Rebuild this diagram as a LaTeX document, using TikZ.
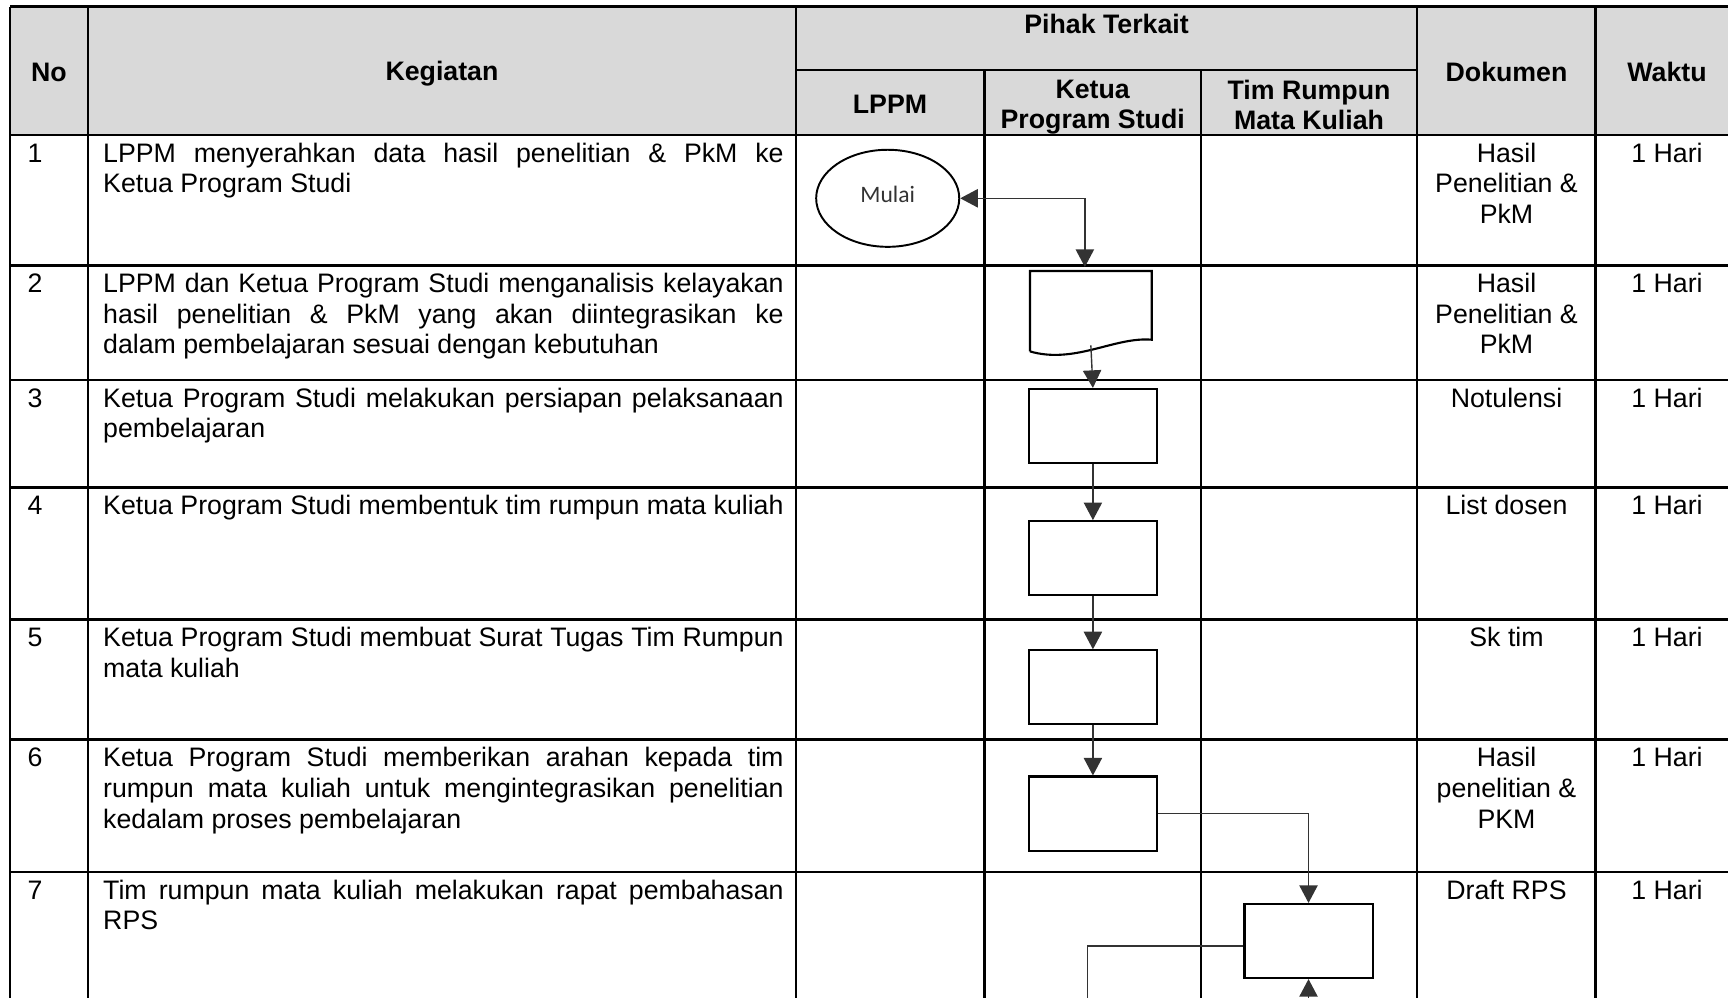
\documentclass[tikz,border=0pt]{standalone}
\usepackage{fontspec}
\setmainfont{Liberation Sans}
\newfontfamily\mulaifont{Carlito}
\usepackage{tikz}
\usetikzlibrary{shapes.geometric, positioning, calc}
\usetikzlibrary{arrows.meta}
\tikzset{>={Triangle[width=5.2pt,length=5pt]}}
\definecolor{headgray}{HTML}{D9D9D9}
\definecolor{linegray}{HTML}{333333}
\newcommand{\isifont}{\fontsize{7.6}{8.7}\selectfont\hyphenpenalty=10000\exhyphenpenalty=10000}
\newcommand{\judulfont}{\fontsize{7.6}{8.7}\selectfont\bfseries}

\begin{document}
\begin{tikzpicture}[x=0.01cm, y=-0.01cm, isi/.style={inner sep=0pt, font=\isifont}, kegiatan/.style={isi, anchor=north west, text width=6.8cm, align=justify}, nomor/.style={isi, anchor=north west}, kolom/.style={isi, anchor=north, align=center}, judul/.style={inner sep=0pt, font=\judulfont, align=center}, proses/.style={draw, line width=0.6pt, minimum width=1.28cm, minimum height=0.74cm, inner sep=0pt}, mulainode/.style={ellipse, draw, line width=0.55pt, minimum width=1.43cm, minimum height=0.97cm, inner sep=0pt, text depth=2.5pt, font=\mulaifont\fontsize{6.7}{8}\selectfont, text=black!80}, garis/.style={line width=0.7pt}, alur/.style={line width=0.4pt, draw=linegray}]

    \clip (0,0) rectangle (1728,997);
    \fill[headgray] (10,6.7) rectangle (1728,135);

    %Table
    \draw[garis] (10,6.7) -- (1728,6.7);
    \draw[garis] (796,70) -- (1417,70);
    \draw[garis] (10,135) -- (1728,135);
    \draw[garis] (10,265.5) -- (1728,265.5);
    \draw[garis] (10,380) -- (1728,380);
    \draw[garis] (10,487.7) -- (1728,487.7);
    \draw[garis] (10,619.7) -- (1728,619.7);
    \draw[garis] (10,739.7) -- (1728,739.7);
    \draw[garis] (10,872) -- (1728,872);
    \draw[garis] (10,6.7) -- (10,1000);
    \draw[garis] (88,6.7) -- (88,1000);
    \draw[garis] (796,6.7) -- (796,1000);
    \draw[garis] (984.5,70) -- (984.5,1000);
    \draw[garis] (1201,70) -- (1201,1000);
    \draw[garis] (1417,6.7) -- (1417,1000);
    \draw[garis] (1595.7,6.7) -- (1595.7,1000);

    %Header
    \node[judul](no) at (49,72){No};
    \node[judul](kegiatan) at (442,74){Kegiatan};
    \node[judul](pihak) at (1106.5,24){Pihak Terkait};
    \node[judul](lppm) at (890,104){LPPM};
    \node[judul](kaprodi) at (1092.7,107){Ketua\\Program Studi};
    \node[judul](timrumpun) at (1309,105){Tim Rumpun\\Mata Kuliah};
    \node[judul](dokumen) at (1506.5,72){Dokumen};
    \node[judul](waktu) at (1667,72){Waktu};

    %Rows
    \node[nomor](no1) at (27,140.1){\strut 1};
    \node[kegiatan](keg1) at (102.5,140.1){\strut LPPM menyerahkan data hasil penelitian \& PkM ke\linebreak Ketua Program Studi};
    \node[kolom](dok1) at (1506.5,140.1){\strut Hasil\\Penelitian \&\\PkM};
    \node[kolom](wkt1) at (1667,140.1){\strut 1 Hari};

    \node[nomor](no2) at (27,270.6){\strut 2};
    \node[kegiatan](keg2) at (102.5,270.6){\strut LPPM dan Ketua Program Studi menganalisis kelayakan\linebreak hasil penelitian \& PkM yang akan diintegrasikan ke\linebreak dalam pembelajaran sesuai dengan kebutuhan};
    \node[kolom](dok2) at (1506.5,270.6){\strut Hasil\\Penelitian \&\\PkM};
    \node[kolom](wkt2) at (1667,270.6){\strut 1 Hari};

    \node[nomor](no3) at (27,385.1){\strut 3};
    \node[kegiatan](keg3) at (102.5,385.1){\strut Ketua Program Studi melakukan persiapan pelaksanaan\linebreak pembelajaran};
    \node[kolom](dok3) at (1506.5,385.1){\strut Notulensi};
    \node[kolom](wkt3) at (1667,385.1){\strut 1 Hari};

    \node[nomor](no4) at (27,492.8){\strut 4};
    \node[kegiatan](keg4) at (102.5,492.8){\strut Ketua Program Studi membentuk tim rumpun mata kuliah};
    \node[kolom](dok4) at (1506.5,492.8){\strut List dosen};
    \node[kolom](wkt4) at (1667,492.8){\strut 1 Hari};

    \node[nomor](no5) at (27,624.8){\strut 5};
    \node[kegiatan](keg5) at (102.5,624.8){\strut Ketua Program Studi membuat Surat Tugas Tim Rumpun\linebreak mata kuliah};
    \node[kolom](dok5) at (1506.5,624.8){\strut Sk tim};
    \node[kolom](wkt5) at (1667,624.8){\strut 1 Hari};

    \node[nomor](no6) at (27,744.8){\strut 6};
    \node[kegiatan](keg6) at (102.5,744.8){\strut Ketua Program Studi memberikan arahan kepada tim\linebreak rumpun mata kuliah untuk mengintegrasikan penelitian\linebreak kedalam proses pembelajaran};
    \node[kolom](dok6) at (1506.5,744.8){\strut Hasil\\penelitian \&\\PKM};
    \node[kolom](wkt6) at (1667,744.8){\strut 1 Hari};

    \node[nomor](no7) at (27,877.1){\strut 7};
    \node[kegiatan](keg7) at (102.5,877.1){\strut Tim rumpun mata kuliah melakukan rapat pembahasan\linebreak RPS};
    \node[kolom](dok7) at (1506.5,877.1){\strut Draft RPS};
    \node[kolom](wkt7) at (1667,877.1){\strut 1 Hari};

    %Nodes
    \node[mulainode](mulai) at (887.7,198.3){Mulai};
    \node[minimum width=1.203cm, minimum height=0.79cm, inner sep=0pt](analisis) at (1090.85,311.2){};
    \draw[line width=0.6pt] (analisis.south west) -- (analisis.north west) -- (analisis.north east) -- ($(analisis.south east)+(0,-11.7)$) .. controls ($(analisis.south)+(24,-15)$) and ($(analisis.south)+(-16,13)$) .. (analisis.south west);
    \node[proses](persiapan) at (1092.9,426){};
    \node[proses](bentuk)[below=0.56cm of persiapan]{};
    \node[proses](surat)[below=0.53cm of bentuk]{};
    \node[proses](arahan)[below=0.5cm of surat]{};
    \node[proses](rapat) at (1308.5,941){};
    \coordinate (keluar) at (1087.7,1000);
    \coordinate (masuk) at (1308.5,1000);

    %Lines
    \draw[alur, <->] (mulai.east) -| ($(analisis.north)+(-6,-4)$);
    \draw[alur, ->] ($(analisis.south)+(0,-6)$) -- (persiapan.north);
    \draw[alur, ->] (persiapan.south) -- (bentuk.north);
    \draw[alur, ->] (bentuk.south) -- (surat.north);
    \draw[alur, ->] (surat.south) -- (arahan.north);
    \draw[alur, ->] (arahan.east) -| (rapat.north);
    \draw[alur] ($(rapat.west)+(0,5)$) -| (keluar);
    \draw[alur, ->] (masuk) -- (rapat.south);

\end{tikzpicture}
\end{document}
